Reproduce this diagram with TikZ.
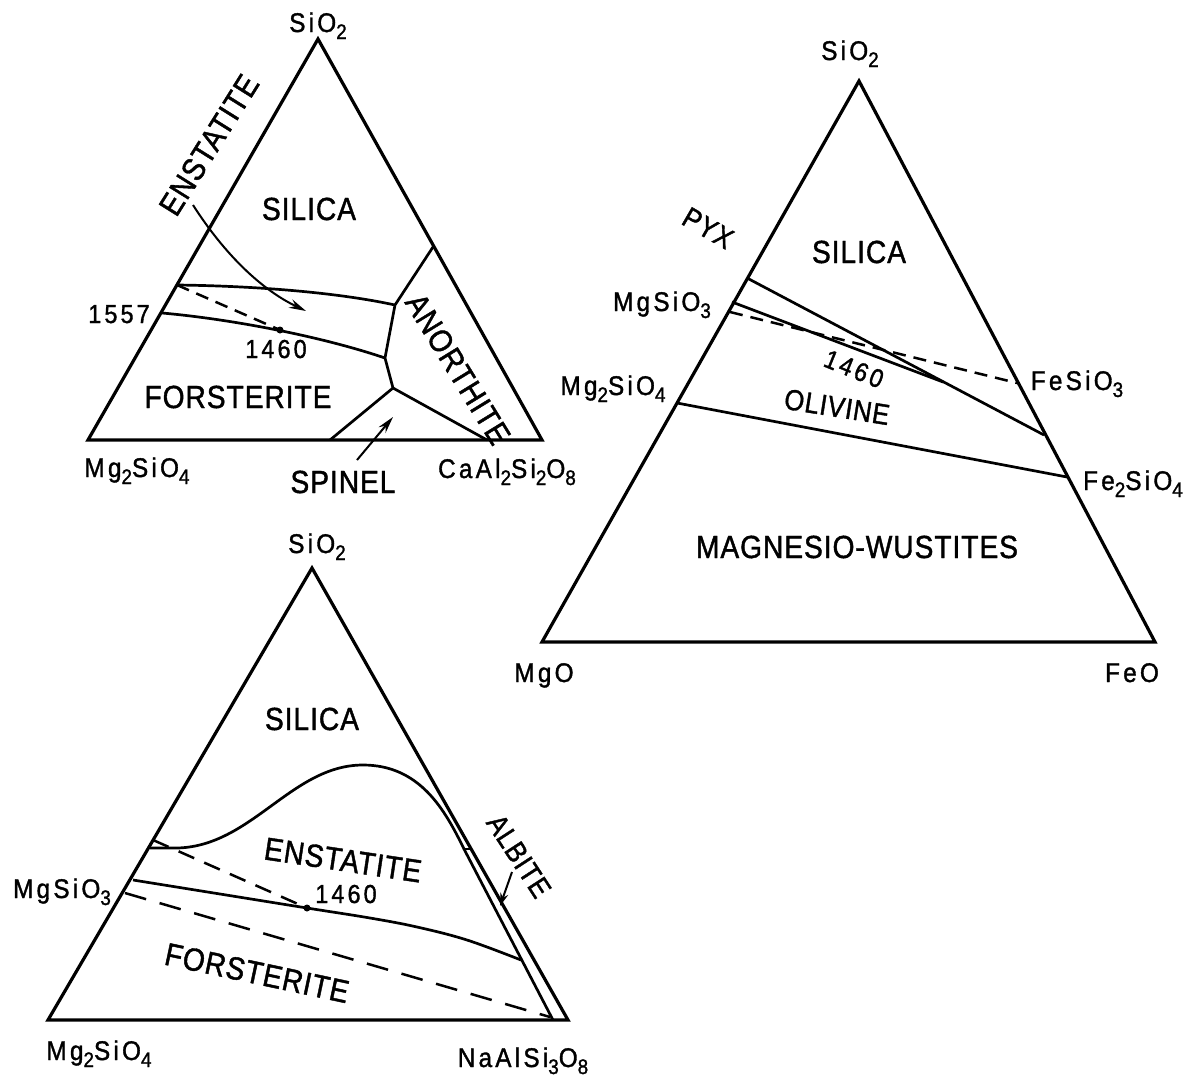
\documentclass[tikz,border=0pt]{standalone}
\usepackage{fontspec}
\usetikzlibrary{arrows.meta}
\newfontfamily\regfont[FakeStretch=0.88,LetterSpace=3,FakeBold=1.3]{Liberation Sans}
\newfontfamily\labfont[FakeStretch=0.9,LetterSpace=12,FakeBold=1.3]{Liberation Sans}
\newcommand\chs[1]{\raisebox{-7pt}{\fontsize{21}{21}\selectfont #1}}
\begin{document}
\begin{tikzpicture}[x=1pt,y=-1pt,
  tri/.style={line width=3.2pt,line join=miter},
  bnd/.style={line width=2.7pt},
  dshA/.style={line width=2.5pt,dash pattern=on 13pt off 8pt},
  dshB/.style={line width=2.5pt,dash pattern=on 17pt off 11pt},
  dshC/.style={line width=2.5pt,dash pattern=on 22pt off 14pt},
  arr/.style={line width=2pt,-{Stealth[length=17pt,width=9pt]}},
  reg/.style={font=\regfont\fontsize{32}{32}\selectfont,inner sep=0pt},
  regs/.style={font=\regfont\fontsize{29}{29}\selectfont,inner sep=0pt},
  lab/.style={font=\labfont\fontsize{27}{27}\selectfont,inner sep=0pt,anchor=base},
  num/.style={font=\labfont\fontsize{26}{26}\selectfont,inner sep=0pt}]
\useasboundingbox (0,0) rectangle (1197,1082);

% ---------------- top-left triangle ----------------
\coordinate (A1) at (88,440);
\coordinate (B1) at (542,440);
\coordinate (C1) at (318,39);
\draw[tri] (A1) -- (B1) -- (C1) -- cycle;
\coordinate (u1) at (177,285);
\coordinate (r1) at (395,305);
\coordinate (l1) at (162,313);
\coordinate (m1) at (385,358);
\coordinate (t1) at (433,247);
\coordinate (s1) at (393,388);
\coordinate (b1) at (330,440);
\coordinate (c1) at (487,440);
\coordinate (d1) at (280,330);
\draw[bnd] (u1) .. controls (260,286) and (340,293) .. (r1);
\draw[bnd] (l1) .. controls (230,319) and (320,336) .. (m1);
\draw[bnd] (t1) -- (r1) -- (m1) -- (s1) -- (b1);
\draw[bnd] (s1) -- (c1);
\draw[dshA] (u1) -- (d1);
\fill (d1) circle (3.5pt);
\coordinate (ea0) at (193,205);
\coordinate (ea1) at (306,311);
\draw[arr] (ea0) .. controls (225,255) and (262,290) .. (ea1);
\coordinate (sp0) at (357,460);
\coordinate (sp1) at (393,417);
\draw[arr] (sp0) -- (sp1);

\node[lab] (n1) at (318,32) {SiO\chs{2}};
\node[reg,rotate=58] (n2) at (209,145) {ENSTATITE};
\node[reg,anchor=base] (n3) at (309,220) {SILICA};
\node[num,anchor=base] (n4) at (119,323) {1557};
\node[num,anchor=base] (n5) at (276,358) {1460};
\node[reg,anchor=base] (n6) at (238,408) {FORSTERITE};
\node[reg,rotate=-58.5] (n7) at (458,369) {ANORTHITE};
\node[lab] (n8) at (137,477) {Mg\chs{2}SiO\chs{4}};
\node[reg,anchor=base] (n9) at (343,493) {SPINEL};
\node[lab] (n10) at (507,478) {CaAl\chs{2}Si\chs{2}O\chs{8}};

% ---------------- right triangle ----------------
\coordinate (A2) at (542,642);
\coordinate (B2) at (1155,642);
\coordinate (C2) at (859,81);
\draw[tri] (A2) -- (B2) -- (C2) -- cycle;
\coordinate (p1) at (747,278);
\coordinate (p2) at (1044,435);
\coordinate (q1) at (732,302);
\coordinate (q2) at (943,382);
\coordinate (e1) at (730,312);
\coordinate (e2) at (1017,383);
\coordinate (o1) at (677,403);
\coordinate (o2) at (1067,477);
\draw[bnd] (p1) -- (p2);
\draw[bnd] (q1) -- (q2);
\draw[dshA] (e1) -- (e2);
\draw[bnd] (o1) -- (o2);

\node[lab] (m1) at (850,60) {SiO\chs{2}};
\node[regs,rotate=-30] (m2) at (708,228) {PYX};
\node[reg,anchor=base] (m3) at (859,263) {SILICA};
\node[lab] (m4) at (662,311) {MgSiO\chs{3}};
\node[num,rotate=-22] (m5) at (854,369) {1460};
\node[regs,rotate=-9] (m6) at (837,407) {OLIVINE};
\node[lab] (m7) at (613,395) {Mg\chs{2}SiO\chs{4}};
\node[lab] (m8) at (1077,390) {FeSiO\chs{3}};
\node[lab] (m9) at (1133,490) {Fe\chs{2}SiO\chs{4}};
\node[reg,anchor=base] (m10) at (857,558) {MAGNESIO-WUSTITES};
\node[lab] (m11) at (544,682) {MgO};
\node[lab] (m12) at (1132,682) {FeO};

% ---------------- bottom triangle ----------------
\coordinate (A3) at (48,1020);
\coordinate (B3) at (568,1020);
\coordinate (C3) at (312,568);
\draw[tri] (A3) -- (B3) -- (C3) -- cycle;
\coordinate (k0) at (150,848);
\coordinate (ka) at (172,848);
\coordinate (kp) at (363,765);
\coordinate (k9) at (464,849);
\coordinate (kn) at (553,1020);
\coordinate (kt) at (471,849);
\coordinate (d3) at (307,908);
\coordinate (h0) at (153,840);
\coordinate (g0) at (125,893);
\coordinate (g1) at (550,1017);
\draw[bnd] (k0) -- (ka) .. controls (250,850) and (290,765) .. (kp)
  .. controls (420,765) and (445,810) .. (k9) -- (kn);
\draw[bnd] (k9) -- (kt);
\draw[bnd] plot[smooth,tension=0.6] coordinates {(133,880) (220,894) (307,908) (370,918) (417,927) (467,940) (521,960)};
\draw[dshB] (h0) -- (d3);
\fill (d3) circle (3.5pt);
\draw[dshC] (g0) -- (g1);
\coordinate (al0) at (512,872);
\coordinate (al1) at (500,906);
\draw[arr,-{Stealth[length=13pt,width=8pt]}] (al0) -- (al1);

\node[lab] (k1) at (317,553) {SiO\chs{2}};
\node[reg,anchor=base] (k2) at (312,730) {SILICA};
\node[reg,rotate=-8.5] (k3) at (343,860) {ENSTATITE};
\node[num,anchor=base] (k4) at (346,903) {1460};
\node[reg,rotate=-12] (k5) at (257,973) {FORSTERITE};
\node[regs,rotate=-57] (k6) at (519,856) {ALBITE};
\node[lab] (k7) at (62,898) {MgSiO\chs{3}};
\node[lab] (k8) at (99,1060) {Mg\chs{2}SiO\chs{4}};
\node[lab] (k10) at (523,1067) {NaAlSi\chs{3}O\chs{8}};
\end{tikzpicture}
\end{document}
